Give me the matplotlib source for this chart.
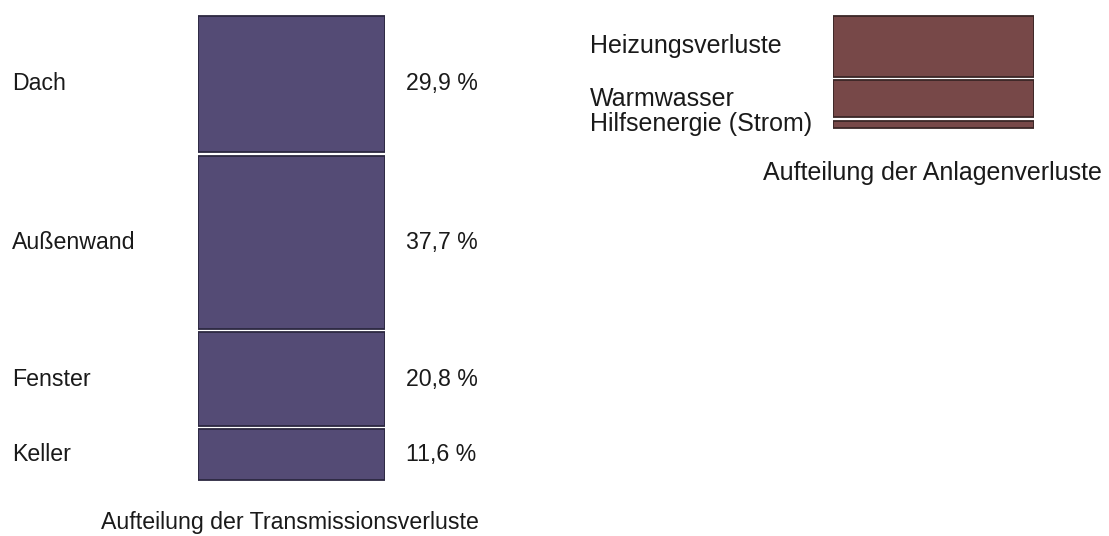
import matplotlib
matplotlib.use("Agg")
import matplotlib.pyplot as plt
from matplotlib.transforms import blended_transform_factory

plt.rcParams['font.family'] = ['Liberation Sans', 'DejaVu Sans']

# Transmissionsverluste (Anteile in %)
trans_labels = ["Dach", "Außenwand", "Fenster", "Keller"]
trans_values = [29.9, 37.7, 20.8, 11.6]
trans_text = ["29,9 %", "37,7 %", "20,8 %", "11,6 %"]

# Anlagenverluste (gleicher Maßstab wie links, geschätzt)
anl_labels = ["Heizungsverluste", "Warmwasser", "Hilfsenergie (Strom)"]
anl_values = [13.8, 8.6, 2.4]

W, H = 1109, 536
fig = plt.figure(figsize=(W / 100, H / 100), dpi=100)
fig.patch.set_facecolor("white")

top_px, bot_px = 14, 482
ax_h = (bot_px - top_px) / H
ax_y = (H - bot_px) / H

ax1 = fig.add_axes([198 / W, ax_y, (385 - 198) / W, ax_h])
ax2 = fig.add_axes([833 / W, ax_y, (1034 - 833) / W, ax_h])

gap = 0.75


def stacked(ax, values, face, edge):
    bottom = 0
    centers = []
    for v in values:
        ax.bar(0.5, v - gap, width=1.0, bottom=bottom + gap / 2,
               color=face, edgecolor=edge, linewidth=1.3)
        centers.append(bottom + v / 2)
        bottom += v
    ax.set_xlim(0, 1)
    ax.set_ylim(100, 0)
    ax.axis("off")
    return centers


c1 = stacked(ax1, trans_values, "#544b75", "#2c2840")
c2 = stacked(ax2, anl_values, "#774848", "#3a2626")

fs_l = 16.7
fs_r = 18
col = "#1a1a1a"
tr1 = blended_transform_factory(fig.transFigure, ax1.transData)
tr2 = blended_transform_factory(fig.transFigure, ax2.transData)

for lab, txt, y in zip(trans_labels, trans_text, c1):
    fig.text(12 / W, y, lab, transform=tr1, fontsize=fs_l,
             va="center", ha="left", color=col)
    fig.text(406 / W, y, txt, transform=tr1, fontsize=fs_l,
             va="center", ha="left", color=col)

for lab, y in zip(anl_labels, c2):
    fig.text(590 / W, y, lab, transform=tr2, fontsize=fs_r,
             va="center", ha="left", color=col)

fig.text(290 / W, 1 - 522 / H, "Aufteilung der Transmissionsverluste",
         fontsize=fs_l, ha="center", va="center", color=col)
fig.text(932 / W, 1 - 173 / H, "Aufteilung der Anlagenverluste",
         fontsize=fs_r, ha="center", va="center", color=col)

fig.savefig("out.png", dpi=100, facecolor="white")
